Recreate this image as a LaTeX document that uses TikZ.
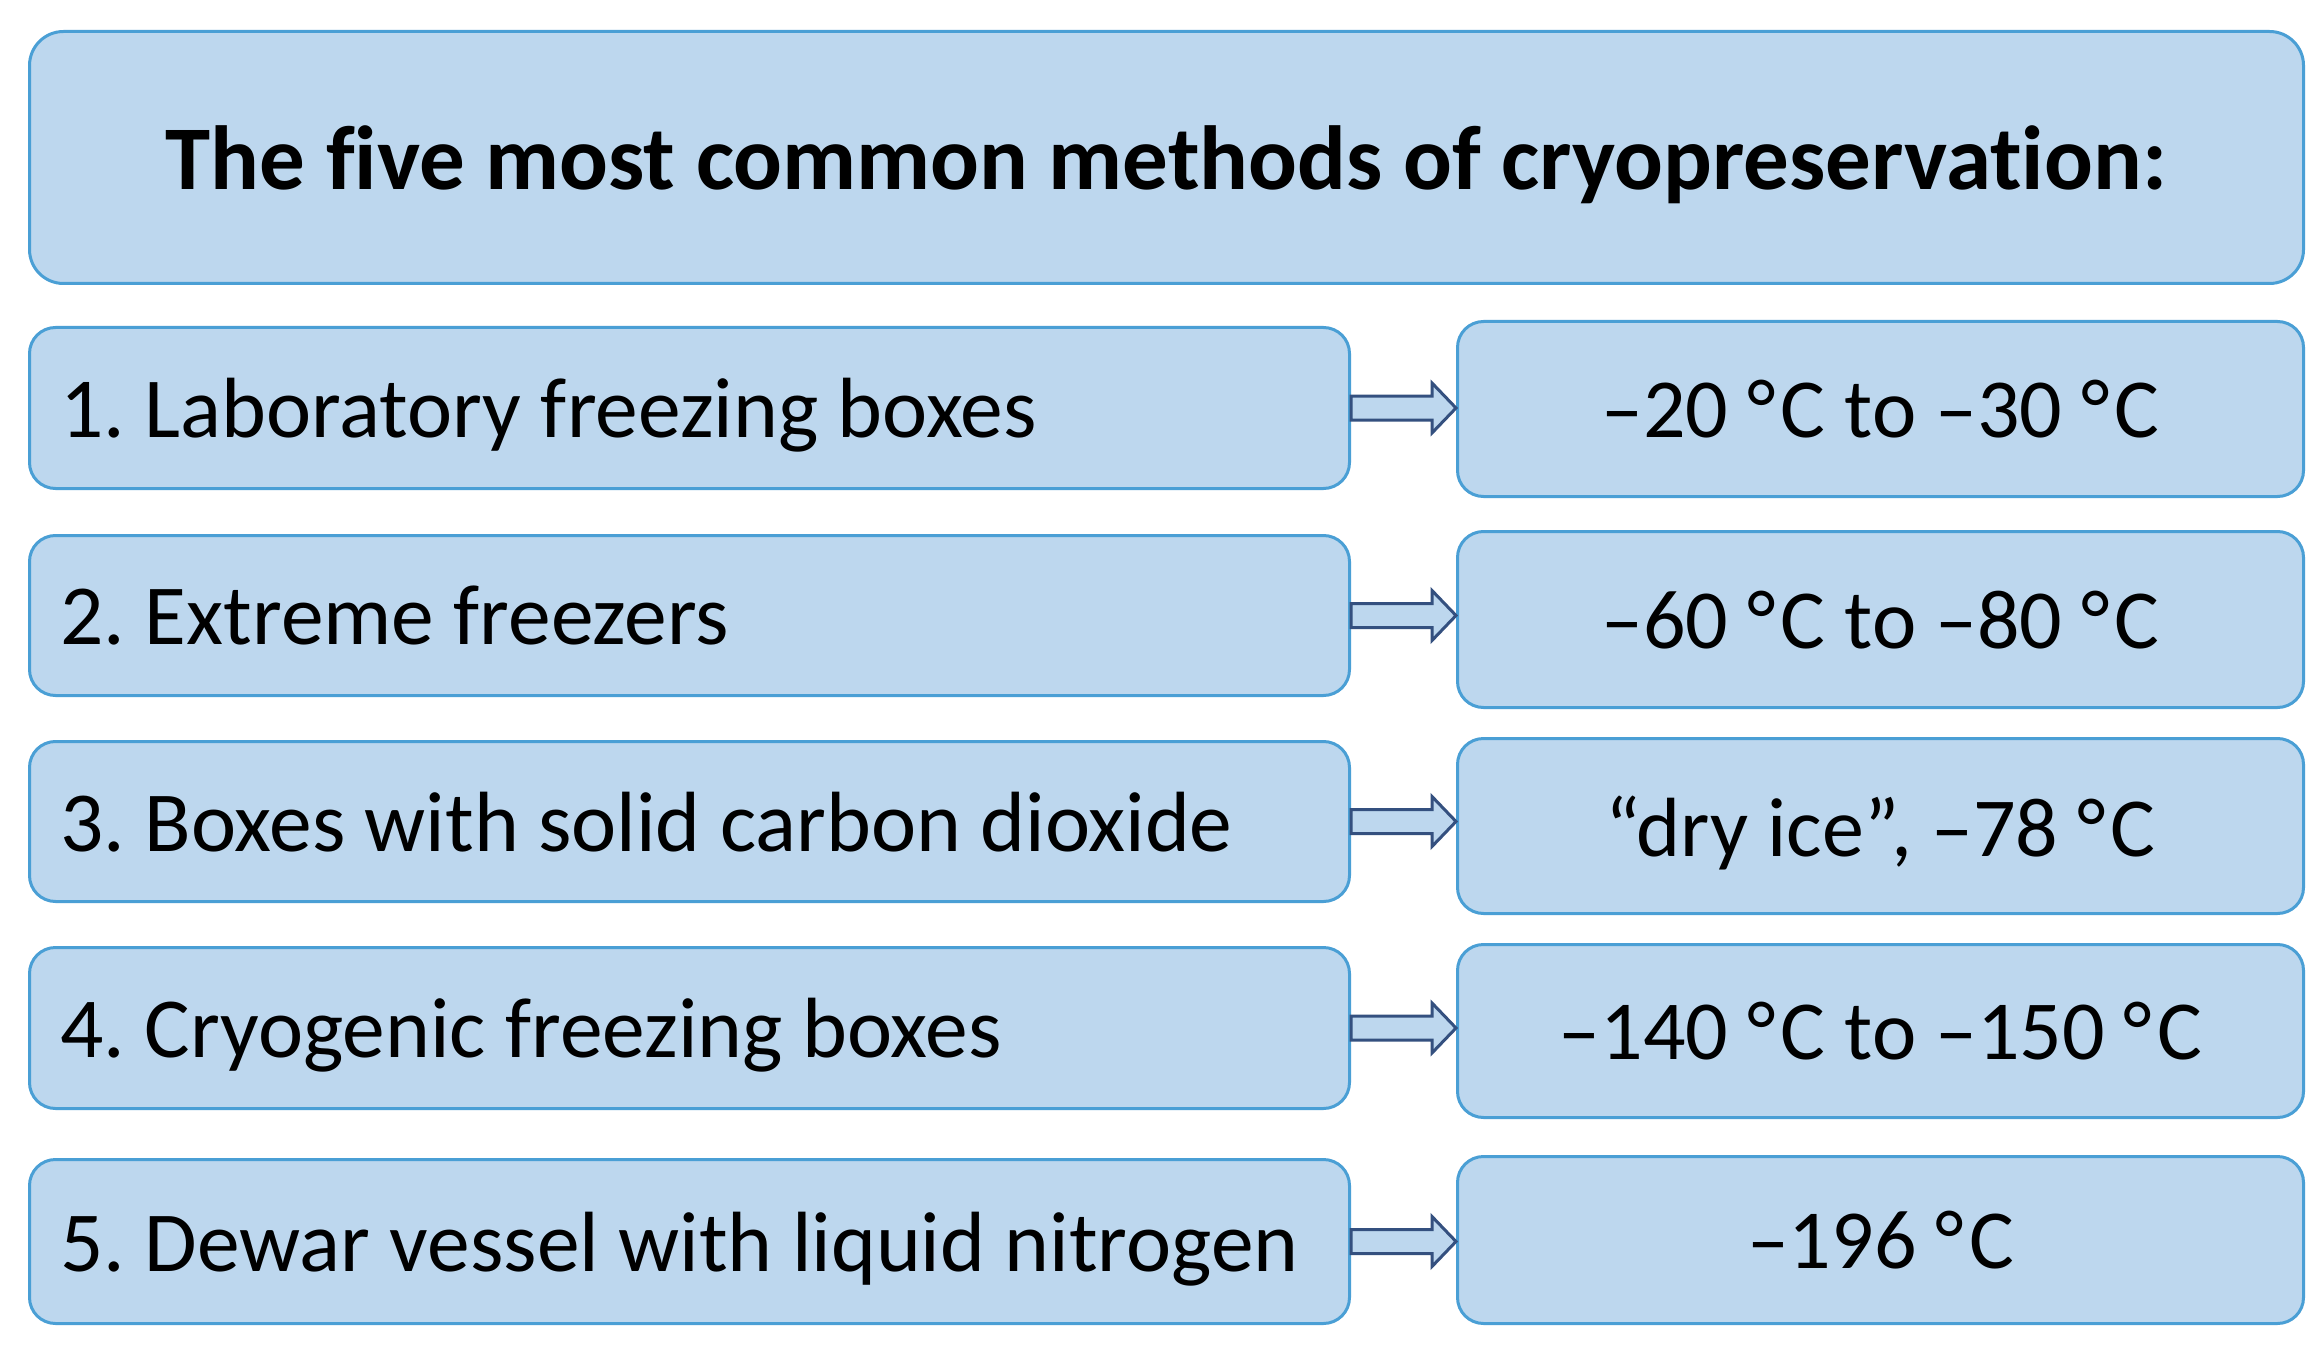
\documentclass[tikz,border=0pt]{standalone}
\usepackage{fontspec}
\setmainfont{Carlito}[Ligatures={NoCommon}]
\usetikzlibrary{calc}
\definecolor{boxfill}{HTML}{BDD7EE}
\definecolor{boxline}{HTML}{4A9FD5}
\definecolor{arrline}{HTML}{34507F}
\newcommand{\lefttext}[1]{\makebox[1258pt][l]{#1}}
\newcommand{\dg}{°\hspace{5pt}}
\tikzset{
  basebox/.style={draw=boxline, fill=boxfill, line width=3pt, rounded corners=26pt, inner sep=0pt, text depth=0pt},
  titlebox/.style={basebox, rounded corners=34pt, minimum width=2274pt, minimum height=252pt, anchor=north west,
    font=\fontsize{91}{110}\selectfont\bfseries},
  lbox/.style={basebox, minimum width=1320pt, anchor=north west, inner xsep=31pt,
    font=\fontsize{85.5}{100}\selectfont\frenchspacing},
  rbox/.style={basebox, minimum width=846pt, anchor=north west, align=center,
    font=\fontsize{84}{100}\selectfont\frenchspacing},
  arrsty/.style={draw=arrline, fill=boxfill, line width=3pt, line join=miter},
}
\newcommand{\myarrow}[2]{%
  \draw[arrsty] ($(#1.east)+(0pt,12pt)$) -- ($(#2.west |- #1.east)+(-24pt,12pt)$)
    -- ($(#2.west |- #1.east)+(-24pt,25pt)$) -- (#2.west |- #1.east)
    -- ($(#2.west |- #1.east)+(-24pt,-25pt)$) -- ($(#2.west |- #1.east)+(-24pt,-12pt)$)
    -- ($(#1.east)+(0pt,-12pt)$) -- cycle;}
\begin{document}
\begin{tikzpicture}[x=1pt,y=-1pt]
\useasboundingbox[fill=white] (0,0) rectangle (2324,1348);
\node[titlebox] (t) at (28,30) {The five most common methods of cryopreservation:};
\node[lbox, minimum height=161pt] (l1) at (28,326) {\lefttext{1. Laboratory freezing boxes}};
\node[rbox, minimum height=175pt] (r1) at (1456,320) {–20 \dg C to –30 \dg C};
\node[lbox, minimum height=160pt] (l2) at (28,534) {\lefttext{2. Extreme freezers}};
\node[rbox, minimum height=176pt] (r2) at (1456,530) {–60 \dg C to –80 \dg C};
\node[lbox, minimum height=160pt] (l3) at (28,740) {\lefttext{3. Boxes with solid carbon dioxide}};
\node[rbox, minimum height=175pt] (r3) at (1456,737) {“dry ice”, –78 \dg C};
\node[lbox, minimum height=161pt] (l4) at (28,946) {\lefttext{4. Cryogenic freezing boxes}};
\node[rbox, minimum height=173pt] (r4) at (1456,943) {–140 \dg C to –150 \dg C};
\node[lbox, minimum height=164pt] (l5) at (28,1158) {\lefttext{5. Dewar vessel with liquid nitrogen}};
\node[rbox, minimum height=167pt] (r5) at (1456,1155) {–196 \dg C};
\myarrow{l1}{r1}
\myarrow{l2}{r2}
\myarrow{l3}{r3}
\myarrow{l4}{r4}
\myarrow{l5}{r5}
\end{tikzpicture}
\end{document}
